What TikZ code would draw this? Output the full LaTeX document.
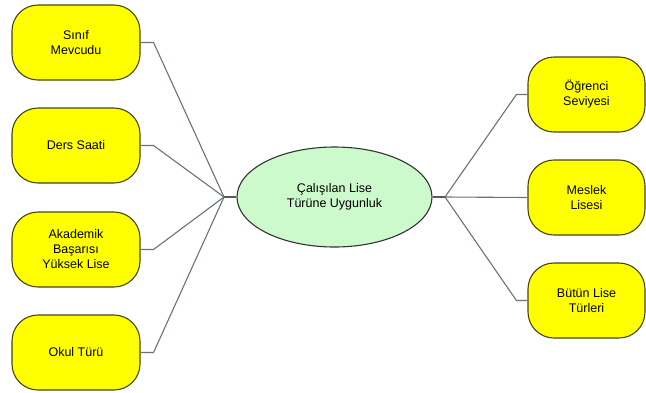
\documentclass[tikz,border=0pt]{standalone}
\usepackage{fontspec}
\setmainfont{Liberation Sans}
\usepackage{tikz}
\usetikzlibrary{shapes.geometric}
\definecolor{kutu}{RGB}{255,255,0}
\definecolor{kenar}{RGB}{70,70,20}
\definecolor{yesil}{RGB}{204,250,204}
\definecolor{baglac}{RGB}{105,115,120}

\begin{document}
\begin{tikzpicture}[
  x=1pt, y=-1pt,
  font=\fontsize{12.5}{15}\selectfont,
  box/.style={rectangle, draw=kenar, fill=kutu, line width=1.1pt,
              rounded corners=26pt, minimum height=75pt, align=center,
              inner sep=0pt},
  hub/.style={ellipse, draw=black!80, fill=yesil, line width=1.1pt,
              minimum width=195pt, minimum height=100pt, inner sep=0pt,
              align=center},
  link/.style={draw=baglac, line width=1.1pt},
  stem/.style={draw=black!65, line width=2pt}
]
  \useasboundingbox (0,0) rectangle (646,392);
  % sol taraf
  \node[box, minimum width=128pt] (sinif) at (76,42.5)  {Sınıf\\ Mevcudu};
  \node[box, minimum width=128pt] (ders)  at (76,145.5) {Ders Saati};
  \node[box, minimum width=128pt] (akad)  at (76,249.5) {Akademik\\ Başarısı\\ Yüksek Lise};
  \node[box, minimum width=128pt] (okul)  at (76,352.5) {Okul Türü};
  % orta
  \node[hub] (lise) at (334.5,197) {Çalışılan Lise\\ Türüne Uygunluk};
  % sag taraf
  \node[box, minimum width=117pt] (ogr)    at (586.5,94.5)  {Öğrenci\\ Seviyesi};
  \node[box, minimum width=117pt] (meslek) at (586.5,197.5) {Meslek\\ Lisesi};
  \node[box, minimum width=117pt] (butun)  at (586.5,300.5) {Bütün Lise\\ Türleri};
  \coordinate (lj) at (224,197);
  \coordinate (rj) at (445,197);
  \draw[link] (sinif.east) -- ++(13,0) -- (lj);
  \draw[link] (ders.east)  -- ++(13,0) -- (lj);
  \draw[link] (akad.east)  -- ++(13,0) -- (lj);
  \draw[link] (okul.east)  -- ++(13,0) -- (lj);
  \draw[stem] (lj) -- (lise.west);
  \draw[stem] (lise.east) -- (rj);
  \draw[link] (rj) -- ([xshift=-11pt]ogr.west) -- (ogr.west);
  \draw[link] (rj) -- (meslek.west);
  \draw[link] (rj) -- ([xshift=-11pt]butun.west) -- (butun.west);
\end{tikzpicture}
\end{document}
